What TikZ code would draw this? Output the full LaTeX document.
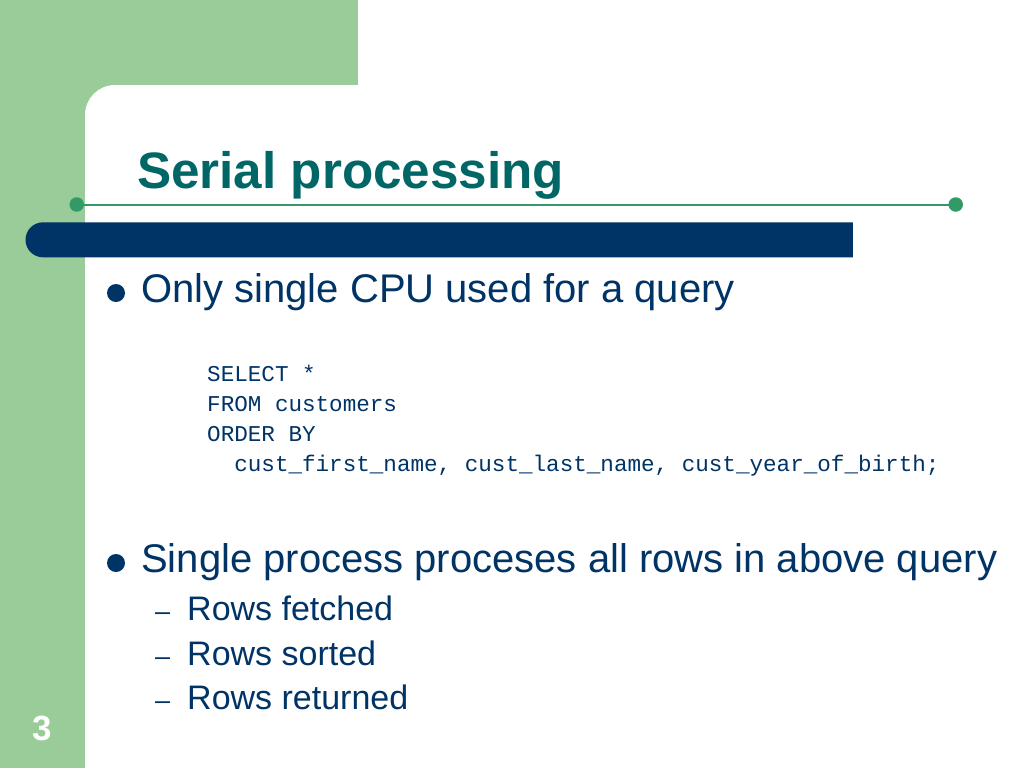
\documentclass[tikz,border=0pt]{standalone}
\usepackage{fontspec}
\setmainfont{Liberation Sans}
\newfontfamily\codefont{Liberation Mono}
\definecolor{bggreen}{HTML}{99CC99}
\definecolor{titleteal}{HTML}{006666}
\definecolor{navy}{HTML}{003366}
\definecolor{linegreen}{HTML}{339966}
\begin{document}
\begin{tikzpicture}[x=1pt,y=-1pt,
  titletext/.style={inner sep=0pt,anchor=base west,text=titleteal,font=\fontsize{51.2}{51}\selectfont\bfseries},
  bodytext/.style={inner sep=0pt,anchor=base west,text=navy,font=\fontsize{40}{40}\selectfont},
  subtext/.style={inner sep=0pt,anchor=base west,text=navy,font=\fontsize{34}{34}\selectfont},
  dashtext/.style={inner sep=0pt,anchor=base west,text=navy,font=\fontsize{27}{27}\selectfont},
  codetext/.style={inner sep=0pt,anchor=base west,text=navy,font=\codefont\fontsize{22.6}{23}\selectfont},
  bulletdot/.style={circle,fill=navy,inner sep=0pt,minimum size=18pt},
  enddot/.style={circle,fill=linegreen,inner sep=0pt,minimum size=14.5pt},
  pagenum/.style={inner sep=0pt,anchor=base west,text=white,font=\fontsize{35}{35}\selectfont\bfseries}]
\useasboundingbox (0,0) rectangle (1024,768);
% background
\fill[bggreen] (0,0) rectangle (1024,768);
\fill[white,rounded corners=30pt] (85,85) rectangle (1200,950);
\fill[white] (358,-10) rectangle (1100,120);
% title rule
\node[enddot] (dl) at (76.7,204.5) {};
\node[enddot] (dr) at (955.7,204.5) {};
\draw[linegreen,line width=2pt] (dl.center) -- (dr.center);
% navy bar
\fill[navy,rounded corners=17.5pt] (25.5,222.3) rectangle (880,257.3);
\fill[white] (853,215) rectangle (900,265);
% title
\node[titletext] (title) at (137,188.3) {Serial processing};
% bullets
\node[bulletdot] (b1) at (116,293) {};
\node[bodytext] (t1) at (141,302.7) {Only single CPU used for a query};
\node[codetext] (c1) at (207,381) {SELECT *};
\node[codetext] (c2) at (207,411) {FROM customers};
\node[codetext] (c3) at (207,441) {ORDER BY};
\node[codetext] (c4) at (207,471) {\ \ cust\_first\_name, cust\_last\_name, cust\_year\_of\_birth;};
\node[bulletdot] (b2) at (116,563) {};
\node[bodytext] (t2) at (141,572.7) {Single process proceses all rows in above query};
\node[dashtext] (d1) at (155,620.7) {–};
\node[subtext] (s1) at (187,620.7) {Rows fetched};
\node[dashtext] (d2) at (155,665) {–};
\node[subtext] (s2) at (187,665) {Rows sorted};
\node[dashtext] (d3) at (155,709) {–};
\node[subtext] (s3) at (187,709) {Rows returned};
% page number
\node[pagenum] (pn) at (32,740) {3};
\end{tikzpicture}
\end{document}
